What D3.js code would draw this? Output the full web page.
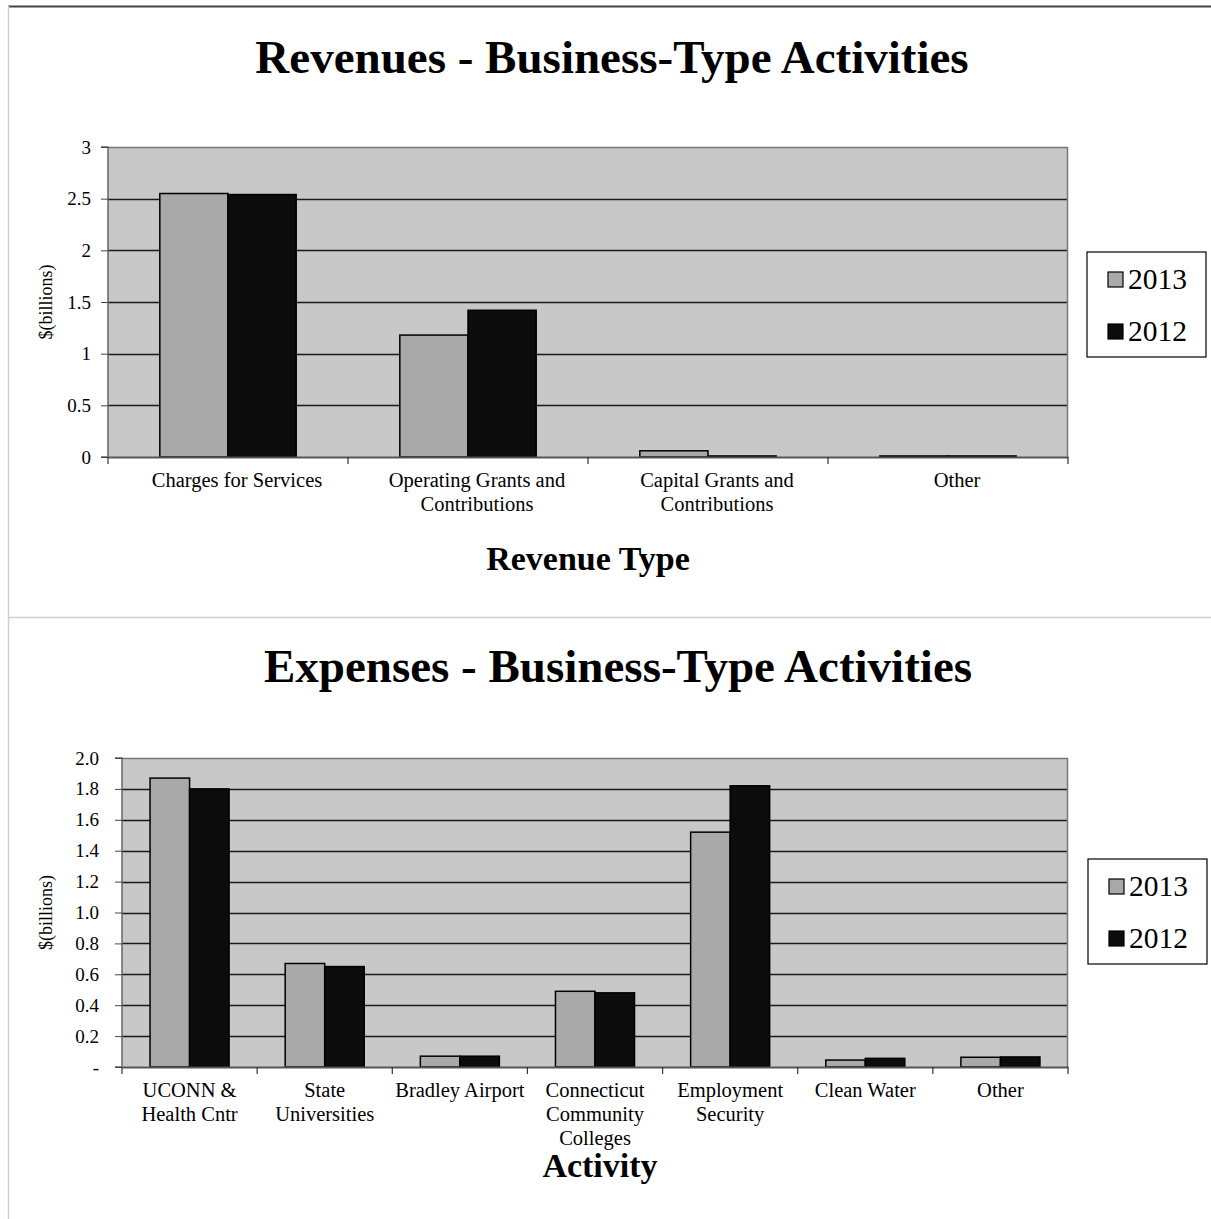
<!DOCTYPE html>
<html><head><meta charset="utf-8">
<script src="https://cdn.jsdelivr.net/npm/d3@7"></script>
<style>body{margin:0;background:#fff}svg{display:block}</style>
</head><body>
<svg id="c" width="1211" height="1219"></svg>
<script>
const series = ["2013", "2012"];
const revCategories = [["Charges for Services"], ["Operating Grants and", "Contributions"], ["Capital Grants and", "Contributions"], ["Other"]];
const rev2013 = [2.55, 1.18, 0.06, 0.01];
const rev2012 = [2.54, 1.42, 0.01, 0.01];
const revTicks = [0, 0.5, 1, 1.5, 2, 2.5, 3];

const expCategories = [["UCONN &", "Health Cntr"], ["State", "Universities"], ["Bradley Airport"], ["Connecticut", "Community", "Colleges"], ["Employment", "Security"], ["Clean Water"], ["Other"]];
const exp2013 = [1.87, 0.67, 0.07, 0.49, 1.52, 0.045, 0.063];
const exp2012 = [1.80, 0.65, 0.07, 0.48, 1.82, 0.056, 0.065];
const expTicks = [0, 0.2, 0.4, 0.6, 0.8, 1.0, 1.2, 1.4, 1.6, 1.8, 2.0];

const colors = {"2013": "#a9a9a9", "2012": "#0c0c0c"};
const FONT = "'Liberation Serif','Times New Roman',serif";
const svg = d3.select("#c");

// page frame
svg.append("line").attr("x1", 8).attr("x2", 1211).attr("y1", 6.5).attr("y2", 6.5).attr("stroke", "#444").attr("stroke-width", 2);
svg.append("line").attr("x1", 8.5).attr("x2", 8.5).attr("y1", 6).attr("y2", 1219).attr("stroke", "#cfcfcf").attr("stroke-width", 1.5);
svg.append("line").attr("x1", 8).attr("x2", 1211).attr("y1", 617.5).attr("y2", 617.5).attr("stroke", "#d0d0d0").attr("stroke-width", 1.5);

function chart(cfg) {
  const g = svg.append("g");
  const x = d3.scaleBand().domain(d3.range(cfg.cats.length)).range([cfg.left, cfg.right]);
  const y = d3.scaleLinear().domain([0, cfg.max]).range([cfg.bottom, cfg.top]);
  const inner = d3.scaleBand().domain(series).range([0, x.bandwidth()]).paddingOuter(cfg.pad);

  g.append("text").attr("x", cfg.titleX).attr("y", cfg.titleY).attr("text-anchor", "middle")
    .attr("font-family", FONT).attr("font-weight", "bold").attr("font-size", 47).text(cfg.title);

  g.append("rect").attr("x", cfg.left).attr("y", cfg.top).attr("width", cfg.right - cfg.left).attr("height", cfg.bottom - cfg.top)
    .attr("fill", "#c8c8c8");

  // gridlines
  g.selectAll(".grid").data(cfg.ticks.filter(t => t > 0 && t < cfg.max)).enter().append("line")
    .attr("x1", cfg.left).attr("x2", cfg.right).attr("y1", d => Math.round(y(d)) + 0.5).attr("y2", d => Math.round(y(d)) + 0.5)
    .attr("stroke", "#1a1a1a").attr("stroke-width", 1.3);
  // plot border: top & right gray
  g.append("path").attr("d", `M${cfg.left},${cfg.top + 0.5}H${cfg.right - 0.5}V${cfg.bottom}`)
    .attr("fill", "none").attr("stroke", "#777").attr("stroke-width", 1.5);

  const data = cfg.cats.map((c, i) => series.map(s => ({i, s, v: cfg.vals[s][i]})));
  g.selectAll(".grp").data(data).enter().append("g")
    .attr("transform", (d, i) => `translate(${x(i)},0)`)
    .selectAll("rect").data(d => d).enter().append("rect")
    .attr("x", d => inner(d.s)).attr("width", inner.bandwidth())
    .attr("y", d => y(d.v)).attr("height", d => y(0) - y(d.v))
    .attr("fill", d => colors[d.s]).attr("stroke", "#000").attr("stroke-width", 1.5);

  // y axis
  const ya = d3.axisLeft(y).tickValues(cfg.ticks).tickSize(7).tickFormat(cfg.fmt);
  const yg = g.append("g").attr("transform", `translate(${cfg.left},0)`).call(ya);
  yg.select(".domain").attr("stroke", "#666").attr("stroke-width", 1.5).attr("d", `M-7,${cfg.bottom}H0V${cfg.top}H-7`);
  yg.selectAll(".tick line").attr("stroke", "#444");
  yg.selectAll(".tick text").attr("font-family", FONT).attr("font-size", 19).attr("fill", "#000").attr("x", cfg.tickGap);

  // x axis
  const xa = d3.axisBottom(x).tickSize(0).tickFormat("");
  const xg = g.append("g").attr("transform", `translate(0,${cfg.bottom})`).call(xa);
  xg.select(".domain").attr("stroke", "#555").attr("stroke-width", 2);
  const bounds = d3.range(cfg.cats.length + 1).map(i => cfg.left + i * x.step());
  g.selectAll(".xt").data(bounds).enter().append("line")
    .attr("x1", d => d).attr("x2", d => d).attr("y1", cfg.bottom).attr("y2", cfg.bottom + 7)
    .attr("stroke", "#333").attr("stroke-width", 1.2);

  cfg.cats.forEach((lines, i) => {
    const cx = x(i) + x.bandwidth() / 2 + cfg.labShift;
    const t = g.append("text").attr("x", cx).attr("y", cfg.bottom + 30)
      .attr("text-anchor", "middle").attr("font-family", FONT).attr("font-size", 20.5);
    lines.forEach((ln, k) => t.append("tspan").attr("x", cx).attr("dy", k ? 24 : 0).text(ln));
  });

  g.append("text").attr("x", cfg.xTitleX).attr("y", cfg.xTitleY).attr("text-anchor", "middle")
    .attr("font-family", FONT).attr("font-weight", "bold").attr("font-size", 34).text(cfg.xTitle);
  g.append("text").attr("transform", `translate(${cfg.yTitleX},${(cfg.top + cfg.bottom) / 2}) rotate(-90)`)
    .attr("text-anchor", "middle").attr("font-family", FONT).attr("font-size", 18).text("$(billions)");

  // legend
  const lg = g.append("g");
  lg.append("rect").attr("x", cfg.legX).attr("y", cfg.legY).attr("width", 119).attr("height", 105)
    .attr("fill", "#fff").attr("stroke", "#000").attr("stroke-width", 1.2);
  series.forEach((s, k) => {
    const cy = cfg.legY + 27 + k * 52;
    lg.append("rect").attr("x", cfg.legX + 21).attr("y", cy - 7).attr("width", 15).attr("height", 15)
      .attr("fill", colors[s]).attr("stroke", "#000").attr("stroke-width", 1.2);
    lg.append("text").attr("x", cfg.legX + 41).attr("y", cy + 10).attr("font-family", FONT).attr("font-size", 29.5).text(s);
  });
}

chart({
  title: "Revenues - Business-Type Activities", titleX: 612, titleY: 73,
  cats: revCategories, vals: {"2013": rev2013, "2012": rev2012}, ticks: revTicks, max: 3,
  fmt: d3.format(""), left: 108, right: 1068, top: 147, bottom: 457, pad: 0.76, tickGap: -17, labShift: 9,
  xTitle: "Revenue Type", xTitleX: 588, xTitleY: 570, yTitleX: 52,
  legX: 1087, legY: 252
});

chart({
  title: "Expenses - Business-Type Activities", titleX: 618, titleY: 682,
  cats: expCategories, vals: {"2013": exp2013, "2012": exp2012}, ticks: expTicks, max: 2,
  fmt: d => d === 0 ? "-" : d3.format(".1f")(d), left: 122, right: 1068, top: 758, bottom: 1067, pad: 0.71, tickGap: -23, labShift: 0,
  xTitle: "Activity", xTitleX: 600, xTitleY: 1177, yTitleX: 52,
  legX: 1088, legY: 859
});
</script>
</body></html>
